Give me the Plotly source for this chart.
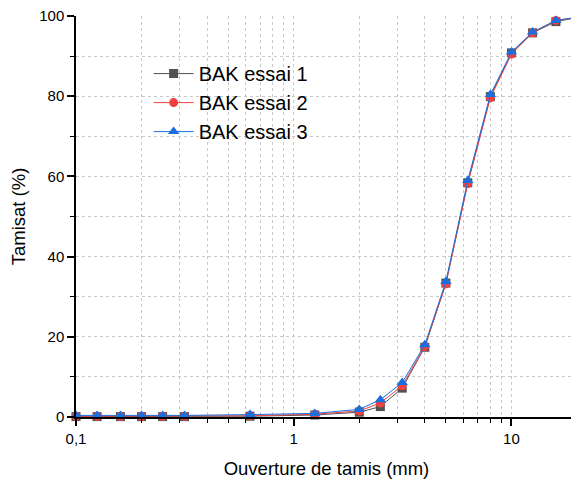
import plotly.graph_objects as go

sieve_mm = [0.1, 0.125, 0.16, 0.2, 0.25, 0.315, 0.63, 1.25, 2, 2.5, 3.15, 4, 5, 6.3, 8, 10, 12.5, 16, 20]
essai1 = [0.1, 0.1, 0.1, 0.1, 0.1, 0.1, 0.2, 0.5, 1.2, 2.6, 7.2, 17.4, 33.4, 58.4, 79.9, 90.8, 95.8, 98.6, 99.6]
essai2 = [0.2, 0.2, 0.2, 0.2, 0.2, 0.2, 0.3, 0.7, 1.5, 3.5, 7.8, 17.6, 33.2, 58.2, 79.6, 90.5, 95.8, 98.9, 99.6]
essai3 = [0.4, 0.4, 0.4, 0.4, 0.4, 0.4, 0.6, 0.9, 1.9, 4.3, 8.6, 18.0, 33.8, 59.0, 80.4, 91.0, 96.0, 98.9, 99.7]
names = ["BAK essai 1", "BAK essai 2", "BAK essai 3"]
colors = ["#515151", "#F14040", "#1A6FDF"]
symbols = ["square", "circle", "triangle-up"]

x_tickvals = [0.1, 1, 10]
x_ticktext = ["0,1", "1", "10"]
y_tickvals = [0, 20, 40, 60, 80, 100]

fig = go.Figure()
for ys, nm, c, s in zip([essai1, essai2, essai3], names, colors, symbols):
    fig.add_trace(go.Scatter(
        x=sieve_mm, y=ys, name=nm, mode="lines+markers",
        line=dict(color=c, width=1), cliponaxis=False,
        marker=dict(symbol=s, size=9 if s != "triangle-up" else 10, color=c),
    ))

grid_col = "#c8c8c8"
fig.update_layout(
    width=571, height=477,
    margin=dict(l=68, r=2, t=8, b=68, autoexpand=False),
    paper_bgcolor="white", plot_bgcolor="white",
    font=dict(family="Liberation Sans, Arial, sans-serif", color="black", size=15),
    showlegend=True,
    legend=dict(x=0.145, y=0.905, xanchor="left", yanchor="top",
                font=dict(size=20), bgcolor="rgba(0,0,0,0)",
                tracegroupgap=0, itemwidth=40),
    xaxis=dict(
        type="log", range=[-1, 1.30103], automargin=False, ticklabeloverflow="allow",
        tickvals=x_tickvals, ticktext=x_ticktext,
        ticks="outside", ticklen=7, tickwidth=1.5, tickcolor="black",
        showline=True, linecolor="black", linewidth=1.5,
        showgrid=True, gridcolor=grid_col, griddash="dot", gridwidth=1,
        minor=dict(ticks="outside", ticklen=4, tickcolor="black", tickwidth=1,
                   showgrid=True, gridcolor=grid_col, griddash="dot", gridwidth=1, dtick="D1"),
        title=dict(text="Ouverture de tamis (mm)", font=dict(size=18.5), standoff=16),
        zeroline=False, tickfont=dict(size=15),
    ),
    yaxis=dict(
        range=[0, 100], tickvals=y_tickvals, automargin=False, ticklabeloverflow="allow",
        ticks="outside", ticklen=7, tickwidth=1.5, tickcolor="black",
        showline=True, linecolor="black", linewidth=1.5,
        showgrid=True, gridcolor=grid_col, griddash="dot", gridwidth=1,
        minor=dict(ticks="outside", ticklen=4, tickcolor="black", tickwidth=1,
                   dtick=10, showgrid=True, gridcolor=grid_col, griddash="dot", gridwidth=1),
        title=dict(text="Tamisat (%)", font=dict(size=18.5), standoff=10),
        zeroline=False, tickfont=dict(size=15),
    ),
)
fig.write_html("out.html")
